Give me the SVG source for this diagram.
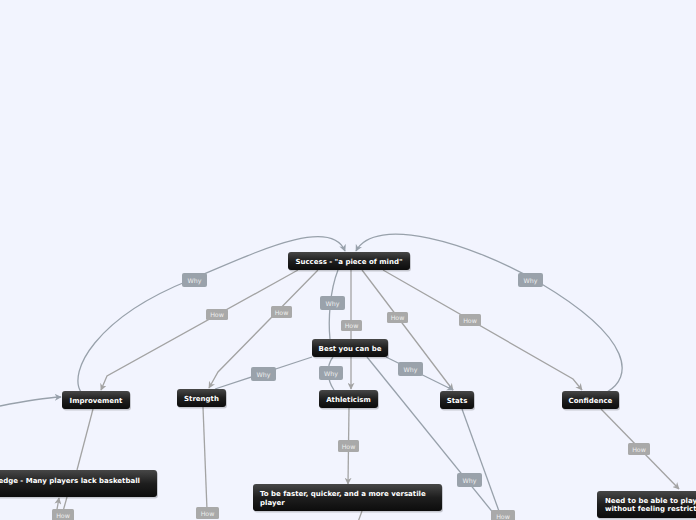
<svg xmlns="http://www.w3.org/2000/svg" width="696" height="520" viewBox="0 0 696 520">
<defs>
<linearGradient id="ng" x1="0" y1="0" x2="0" y2="1">
<stop offset="0" stop-color="#474747"/>
<stop offset="0.5" stop-color="#1e1e1e"/>
<stop offset="1" stop-color="#0c0c0c"/>
</linearGradient>
<marker id="ah" viewBox="0 0 10 10" refX="9" refY="5" markerWidth="7" markerHeight="7" markerUnits="userSpaceOnUse" orient="auto">
<path d="M0,0 L10,5 L0,10 L3,5 z" fill="#a3a3a3"/>
</marker>
<marker id="aw" viewBox="0 0 10 10" refX="9" refY="5" markerWidth="7" markerHeight="7" markerUnits="userSpaceOnUse" orient="auto">
<path d="M0,0 L10,5 L0,10 L3,5 z" fill="#98a1ab"/>
</marker>
</defs>
<style>
.bg{fill:#f2f4fe}
.node rect.b{fill:url(#ng)}
.node rect.s{fill:#000;opacity:0.18}
.node text{font-family:"DejaVu Sans",Verdana,sans-serif;font-size:7px;font-weight:bold;fill:#ffffff}
.how{fill:none;stroke:#a3a3a3;stroke-width:1.3}
.why{fill:none;stroke:#98a1ab;stroke-width:1.3}
.lh rect{fill:#a9a9a9}
.lw rect{fill:#9aa2ab}
.lbl text{font-family:"DejaVu Sans",Verdana,sans-serif;font-size:6.3px;fill:#eeeeee;text-anchor:middle}
</style>
<rect class="bg" x="0" y="0" width="696" height="520"/>

<g id="connectors">
<path class="why" d="M81 392 C68 372, 95 318, 190 280 C250 255, 330 215, 345 251" marker-end="url(#aw)"/>
<path class="why" d="M607 392 C632 378, 636 340, 540 283 C470 242, 375 215, 356 251" marker-end="url(#aw)"/>
<polyline class="how" points="298,270 107,376 101,390" marker-end="url(#ah)"/>
<polyline class="how" points="318,270 218,372 209,388" marker-end="url(#ah)"/>
<path class="why" d="M338 270 C330 290, 328 320, 330 339"/>
<line class="how" x1="351" y1="270" x2="351" y2="389" marker-end="url(#ah)"/>
<path class="why" d="M334 390 C327 380, 326 366, 333 357"/>
<polyline class="how" points="362,270 449,385 453,390" marker-end="url(#ah)"/>
<line class="why" x1="386" y1="357" x2="453" y2="390" marker-end="url(#aw)"/>
<polyline class="how" points="383,270 573,379 582,390" marker-end="url(#ah)"/>
<line class="why" x1="215" y1="389" x2="312" y2="357"/>
<line class="why" x1="367" y1="357" x2="503" y2="525"/>
<line class="why" x1="462" y1="409" x2="504" y2="525"/>
<line class="how" x1="349" y1="408" x2="348" y2="484" marker-end="url(#ah)"/>
<line class="how" x1="362" y1="511" x2="358" y2="522"/>
<line class="how" x1="93" y1="409" x2="77" y2="470"/>
<line class="how" x1="67" y1="497" x2="62" y2="515"/>
<line class="how" x1="56" y1="515" x2="59" y2="498" marker-end="url(#ah)"/>
<line class="how" x1="203" y1="407" x2="207" y2="510"/>
<path class="why" d="M0 406 C20 402, 40 398, 61 397" marker-end="url(#aw)"/>
<polyline class="how" points="601,409 679,489" marker-end="url(#ah)"/>
</g>

<g id="labels">
<g class="lbl lw"><rect x="182" y="273" width="25" height="14" rx="2"/><text x="194.5" y="282.5">Why</text></g>
<g class="lbl lh"><rect x="206" y="309" width="22" height="11" rx="1.5"/><text x="217" y="317">How</text></g>
<g class="lbl lh"><rect x="271" y="306" width="21" height="12" rx="1.5"/><text x="281.5" y="314.5">How</text></g>
<g class="lbl lw"><rect x="320" y="296" width="25" height="14" rx="2"/><text x="332.5" y="305.5">Why</text></g>
<g class="lbl lh"><rect x="341" y="320" width="21" height="11" rx="1.5"/><text x="351.5" y="328">How</text></g>
<g class="lbl lh"><rect x="387" y="312" width="21" height="11" rx="1.5"/><text x="397.5" y="320">How</text></g>
<g class="lbl lh"><rect x="459" y="314" width="22" height="12" rx="1.5"/><text x="470" y="322.5">How</text></g>
<g class="lbl lw"><rect x="518" y="273" width="25" height="14" rx="2"/><text x="530.5" y="282.5">Why</text></g>
<g class="lbl lw"><rect x="251" y="367" width="25" height="14" rx="2"/><text x="263.5" y="376.5">Why</text></g>
<g class="lbl lw"><rect x="319" y="366" width="24" height="14" rx="2"/><text x="331" y="375.5">Why</text></g>
<g class="lbl lw"><rect x="398" y="362" width="25" height="14" rx="2"/><text x="410.5" y="371.5">Why</text></g>
<g class="lbl lh"><rect x="338" y="440" width="21" height="12" rx="1.5"/><text x="348.5" y="448.5">How</text></g>
<g class="lbl lw"><rect x="457" y="473" width="25" height="14" rx="2"/><text x="469.5" y="482.5">Why</text></g>
<g class="lbl lh"><rect x="491" y="510" width="24" height="12" rx="1.5"/><text x="503" y="518.5">How</text></g>
<g class="lbl lh"><rect x="52" y="509" width="22" height="12" rx="1.5"/><text x="63" y="517.5">How</text></g>
<g class="lbl lh"><rect x="196" y="507" width="23" height="12" rx="1.5"/><text x="207.5" y="515.5">How</text></g>
<g class="lbl lh"><rect x="628" y="443" width="22" height="12" rx="1.5"/><text x="639" y="451.5">How</text></g>
</g>

<g id="n-success" class="node"><rect class="s" x="289" y="253.5" width="122" height="18" rx="3"/><rect class="b" x="288" y="252" width="122" height="18" rx="3"/><text x="349" y="263.5" text-anchor="middle">Success - "a piece of mind"</text></g>
<g id="n-best" class="node"><rect class="s" x="313" y="340.5" width="76" height="18" rx="3"/><rect class="b" x="312" y="339" width="76" height="18" rx="3"/><text x="350" y="350.5" text-anchor="middle">Best you can be</text></g>
<g id="n-improvement" class="node"><rect class="s" x="63" y="392.5" width="68" height="18" rx="3"/><rect class="b" x="62" y="391" width="68" height="18" rx="3"/><text x="96" y="402.5" text-anchor="middle">Improvement</text></g>
<g id="n-strength" class="node"><rect class="s" x="178" y="390.5" width="49" height="18" rx="3"/><rect class="b" x="177" y="389" width="49" height="18" rx="3"/><text x="201.5" y="400.5" text-anchor="middle">Strength</text></g>
<g id="n-athleticism" class="node"><rect class="s" x="320" y="391.5" width="59" height="18" rx="3"/><rect class="b" x="319" y="390" width="59" height="18" rx="3"/><text x="348.5" y="401.5" text-anchor="middle">Athleticism</text></g>
<g id="n-stats" class="node"><rect class="s" x="441" y="392.5" width="34" height="18" rx="3"/><rect class="b" x="440" y="391" width="34" height="18" rx="3"/><text x="457" y="402.5" text-anchor="middle">Stats</text></g>
<g id="n-confidence" class="node"><rect class="s" x="563" y="392.5" width="57" height="18" rx="3"/><rect class="b" x="562" y="391" width="57" height="18" rx="3"/><text x="590.5" y="402.5" text-anchor="middle">Confidence</text></g>
<g id="n-knowledge" class="node"><rect class="s" x="-59" y="471.5" width="217" height="27" rx="3"/><rect class="b" x="-60" y="470" width="217" height="27" rx="3"/><text x="140" y="483" text-anchor="end">Knowledge - Many players lack basketball</text></g>
<g id="n-faster" class="node"><rect class="s" x="254" y="485.5" width="189" height="27" rx="3"/><rect class="b" x="253" y="484" width="189" height="27" rx="3"/><text x="260" y="496">To be faster, quicker, and a more versatile</text><text x="260" y="504.5">player</text></g>
<g id="n-need" class="node"><rect class="s" x="598" y="492.5" width="130" height="27" rx="3"/><rect class="b" x="597" y="491" width="130" height="27" rx="3"/><text x="605" y="502.5">Need to be able to play</text><text x="605" y="511">without feeling restricted</text></g>
</svg>
